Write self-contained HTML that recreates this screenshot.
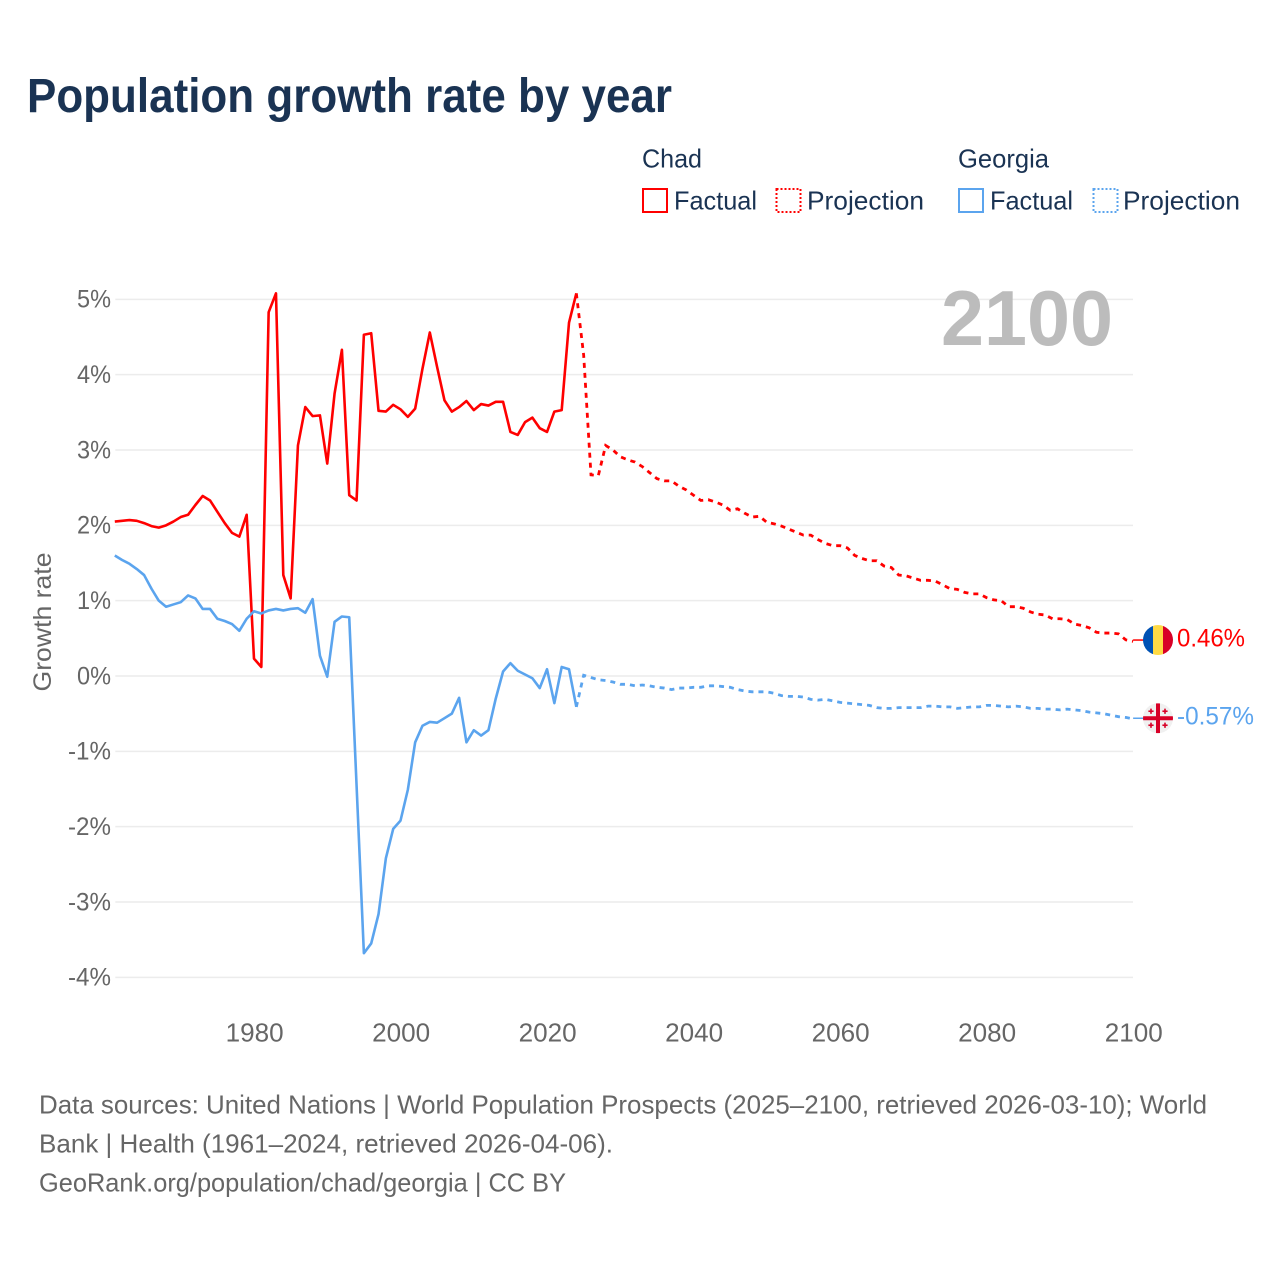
<!DOCTYPE html>
<html lang="en">
<head>
<meta charset="utf-8">
<title>Population growth rate by year</title>
<style>
html,body{margin:0;padding:0;background:#fff;width:1280px;height:1280px;overflow:hidden}
svg{display:block;font-family:"Liberation Sans",sans-serif}
</style>
</head>
<body>
<svg id="chart" xmlns="http://www.w3.org/2000/svg" width="1280" height="1280" viewBox="0 0 1280 1280">
  <rect width="1280" height="1280" fill="#fff"/>
  <text x="27" y="112" font-size="48" font-weight="700" fill="#1a3353" textLength="645" lengthAdjust="spacingAndGlyphs">Population growth rate by year</text>

  <g font-size="26" fill="#1a3353">
    <text x="642" y="167.5" textLength="60" lengthAdjust="spacingAndGlyphs">Chad</text>
    <text x="958" y="167.5" textLength="91" lengthAdjust="spacingAndGlyphs">Georgia</text>
    <rect x="643" y="189" width="24" height="23" fill="none" stroke="#ff0000" stroke-width="2"/>
    <text x="674" y="209.5" textLength="83" lengthAdjust="spacingAndGlyphs">Factual</text>
    <rect x="776.5" y="189" width="24" height="23" fill="none" stroke="#ff0000" stroke-width="2" stroke-dasharray="2 2"/>
    <text x="807" y="209.5" textLength="117" lengthAdjust="spacingAndGlyphs">Projection</text>
    <rect x="959" y="189" width="24" height="23" fill="none" stroke="#5ba4ee" stroke-width="2"/>
    <text x="990" y="209.5" textLength="83" lengthAdjust="spacingAndGlyphs">Factual</text>
    <rect x="1093.5" y="189" width="24" height="23" fill="none" stroke="#5ba4ee" stroke-width="2" stroke-dasharray="2 2"/>
    <text x="1123" y="209.5" textLength="117" lengthAdjust="spacingAndGlyphs">Projection</text>
  </g>

  <g id="grid"></g>
  <g id="yaxis" font-size="25" fill="#666"></g>
  <g id="xaxis" font-size="26" fill="#666"></g>
  <text transform="translate(51 622) rotate(-90)" text-anchor="middle" font-size="25" fill="#666" textLength="139" lengthAdjust="spacingAndGlyphs">Growth rate</text>
  <text x="1113" y="345" text-anchor="end" font-size="78" font-weight="700" fill="#bcbcbc" textLength="172" lengthAdjust="spacingAndGlyphs">2100</text>

  <g id="series"></g>

  <g id="endmarks"></g>

  <g font-size="26" fill="#666">
    <text x="39" y="1113.5" textLength="1168" lengthAdjust="spacingAndGlyphs">Data sources: United Nations | World Population Prospects (2025–2100, retrieved 2026-03-10); World</text>
    <text x="39" y="1152.5" textLength="574" lengthAdjust="spacingAndGlyphs">Bank | Health (1961–2024, retrieved 2026-04-06).</text>
    <text x="39" y="1191.5" textLength="527" lengthAdjust="spacingAndGlyphs">GeoRank.org/population/chad/georgia | CC BY</text>
  </g>
</svg>
<script>
const yTickValues = [5, 4, 3, 2, 1, 0, -1, -2, -3, -4];
const xTickYears = [1980, 2000, 2020, 2040, 2060, 2080, 2100];
const factualStartYear = 1961;
const projectionStartYear = 2024;
const chadFactual = [2.05,2.06,2.07,2.06,2.03,1.99,1.97,2.00,2.05,2.11,2.14,2.27,2.39,2.33,2.18,2.03,1.90,1.85,2.14,0.23,0.12,4.83,5.08,1.34,1.03,3.06,3.57,3.45,3.46,2.82,3.75,4.33,2.40,2.33,4.53,4.55,3.52,3.51,3.60,3.54,3.44,3.55,4.08,4.56,4.10,3.66,3.51,3.57,3.65,3.53,3.61,3.59,3.64,3.64,3.24,3.20,3.37,3.43,3.29,3.24,3.51,3.53,4.69,5.08];
const chadProjection = [5.08,4.26,2.67,2.66,3.06,3.00,2.91,2.87,2.84,2.78,2.70,2.62,2.59,2.59,2.52,2.47,2.40,2.33,2.34,2.31,2.27,2.20,2.22,2.16,2.11,2.12,2.04,2.02,1.99,1.95,1.91,1.87,1.87,1.81,1.76,1.73,1.73,1.70,1.60,1.56,1.53,1.53,1.46,1.44,1.34,1.33,1.30,1.27,1.27,1.26,1.21,1.16,1.15,1.11,1.09,1.09,1.04,1.01,1.00,0.92,0.92,0.90,0.85,0.82,0.81,0.76,0.76,0.75,0.69,0.67,0.64,0.58,0.57,0.57,0.56,0.48,0.46];
const georgiaFactual = [1.60,1.54,1.49,1.42,1.34,1.16,1.00,0.92,0.95,0.98,1.07,1.03,0.89,0.89,0.76,0.73,0.69,0.60,0.76,0.86,0.83,0.87,0.89,0.87,0.89,0.90,0.84,1.02,0.27,-0.01,0.72,0.79,0.78,-1.45,-3.68,-3.55,-3.16,-2.42,-2.03,-1.92,-1.51,-0.88,-0.66,-0.61,-0.62,-0.56,-0.50,-0.29,-0.88,-0.72,-0.79,-0.72,-0.30,0.06,0.17,0.07,0.02,-0.03,-0.16,0.09,-0.36,0.12,0.09,-0.41];
const georgiaProjection = [-0.41,0.01,-0.02,-0.05,-0.06,-0.08,-0.11,-0.11,-0.13,-0.12,-0.13,-0.15,-0.16,-0.18,-0.16,-0.16,-0.15,-0.15,-0.13,-0.13,-0.14,-0.15,-0.18,-0.20,-0.21,-0.21,-0.21,-0.23,-0.26,-0.27,-0.27,-0.28,-0.31,-0.32,-0.31,-0.33,-0.35,-0.36,-0.37,-0.38,-0.39,-0.42,-0.43,-0.43,-0.42,-0.42,-0.42,-0.42,-0.40,-0.40,-0.41,-0.41,-0.43,-0.42,-0.41,-0.41,-0.39,-0.39,-0.40,-0.41,-0.40,-0.41,-0.43,-0.43,-0.44,-0.44,-0.45,-0.44,-0.45,-0.46,-0.48,-0.49,-0.50,-0.52,-0.54,-0.55,-0.57];

const NS = 'http://www.w3.org/2000/svg';
const xScale = year => 114.8 + (year - 1961) * 7.326;
const yScale = value => 676 - value * 75.33;
const make = (parent, tag, attrs) => {
  const el = document.createElementNS(NS, tag);
  Object.keys(attrs).forEach(k => el.setAttribute(k, attrs[k]));
  parent.appendChild(el);
  return el;
};
const grid = document.getElementById('grid');
const yaxis = document.getElementById('yaxis');
const xaxis = document.getElementById('xaxis');
const series = document.getElementById('series');
const endmarks = document.getElementById('endmarks');

yTickValues.forEach(v => {
  const line = make(grid, 'line', {x1: 115.3, x2: 1133, y1: yScale(v), y2: yScale(v), stroke: '#ececec', 'stroke-width': 1.5});
  
  
  const label = make(yaxis, 'text', {x: 111, y: yScale(v) + 8.3, 'text-anchor': 'end', textLength: v < 0 ? 43 : 34, lengthAdjust: 'spacingAndGlyphs'});
  label.textContent = v + '%';
  
  
});

xTickYears.forEach(year => {
  const label = make(xaxis, 'text', {x: xScale(year) + 0.6, y: 1041.5, 'text-anchor': 'middle', textLength: 58, lengthAdjust: 'spacingAndGlyphs'});
  label.textContent = String(year);
  
  
});

const toPoints = (values, startYear) => values.map((v, i) => xScale(startYear + i).toFixed(2) + ',' + yScale(v).toFixed(2)).join(' ');

const chadFactualLine = make(series, 'polyline', {points: toPoints(chadFactual, factualStartYear), fill: 'none', stroke: '#ff0000', 'stroke-width': 2.6, 'stroke-linejoin': 'round'});



const chadProjectionLine = make(series, 'polyline', {points: toPoints(chadProjection, projectionStartYear), fill: 'none', stroke: '#ff0000', 'stroke-width': 2.8, 'stroke-dasharray': '5 5'});



const georgiaFactualLine = make(series, 'polyline', {points: toPoints(georgiaFactual, factualStartYear), fill: 'none', stroke: '#5ba4ee', 'stroke-width': 2.6, 'stroke-linejoin': 'round'});



const georgiaProjectionLine = make(series, 'polyline', {points: toPoints(georgiaProjection, projectionStartYear), fill: 'none', stroke: '#5ba4ee', 'stroke-width': 2.8, 'stroke-dasharray': '5 5'});



const lastChad = chadProjection[chadProjection.length - 1];
const lastGeorgia = georgiaProjection[georgiaProjection.length - 1];
const endX = xScale(2100);
const flagX = 1158;

const chadY = yScale(lastChad) - 1.3;
const chadLink = make(endmarks, 'line', {x1: endX, x2: flagX - 14, y1: chadY, y2: chadY, stroke: '#ff0000', 'stroke-width': 1.5});



const georgiaY = yScale(lastGeorgia) - 0.7;
const georgiaLink = make(endmarks, 'line', {x1: endX, x2: flagX - 14, y1: georgiaY, y2: georgiaY, stroke: '#5ba4ee', 'stroke-width': 1.5});



const defs = make(endmarks, 'defs', {});
const clipChad = make(defs, 'clipPath', {id: 'clip-chad'});
make(clipChad, 'circle', {cx: flagX, cy: chadY, r: 15});
const clipGeorgia = make(defs, 'clipPath', {id: 'clip-georgia'});
make(clipGeorgia, 'circle', {cx: flagX, cy: georgiaY, r: 15});

const chadFlag = make(endmarks, 'g', {'clip-path': 'url(#clip-chad)'});


make(chadFlag, 'rect', {x: flagX - 15, y: chadY - 15, width: 10, height: 30, fill: '#0052b4'});
make(chadFlag, 'rect', {x: flagX - 5, y: chadY - 15, width: 10, height: 30, fill: '#ffda44'});
make(chadFlag, 'rect', {x: flagX + 5, y: chadY - 15, width: 10, height: 30, fill: '#d80027'});

const georgiaFlag = make(endmarks, 'g', {'clip-path': 'url(#clip-georgia)'});


make(georgiaFlag, 'rect', {x: flagX - 15, y: georgiaY - 15, width: 30, height: 30, fill: '#f0f0f0'});
make(georgiaFlag, 'rect', {x: flagX - 2, y: georgiaY - 15, width: 4, height: 30, fill: '#d80027'});
make(georgiaFlag, 'rect', {x: flagX - 15, y: georgiaY - 2, width: 30, height: 4, fill: '#d80027'});
[[-7, -7], [7, -7], [-7, 7], [7, 7]].forEach(o => {
  make(georgiaFlag, 'rect', {x: flagX + o[0] - 0.8, y: georgiaY + o[1] - 2.6, width: 1.6, height: 5.2, fill: '#d80027'});
  make(georgiaFlag, 'rect', {x: flagX + o[0] - 2.6, y: georgiaY + o[1] - 0.8, width: 5.2, height: 1.6, fill: '#d80027'});
});

const chadValue = make(endmarks, 'text', {x: 1177, y: chadY + 6.5, 'font-size': 25, fill: '#ff0000', textLength: 68, lengthAdjust: 'spacingAndGlyphs'});
chadValue.textContent = lastChad.toFixed(2) + '%';



const georgiaValue = make(endmarks, 'text', {x: 1177, y: georgiaY + 6.5, 'font-size': 25, fill: '#5ba4ee', textLength: 77, lengthAdjust: 'spacingAndGlyphs'});
georgiaValue.textContent = lastGeorgia.toFixed(2) + '%';


</script>
</body>
</html>
